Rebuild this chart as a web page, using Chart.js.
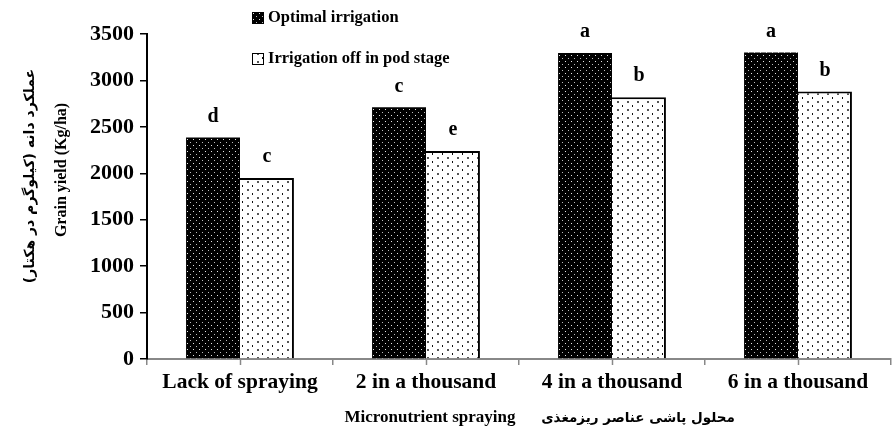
<!DOCTYPE html>
<html lang="en">
<head>
  <meta charset="UTF-8" />
  <title>Grain yield by micronutrient spraying</title>
  <script src="https://cdn.jsdelivr.net/npm/chart.js"></script>
  <style>
    html, body { margin: 0; padding: 0; background: #fff; }
    #wrap { width: 892px; height: 435px; position: relative; }
  </style>
</head>
<body>
  <div id="wrap"><canvas id="yieldChart"></canvas></div>

  <script>
    // data
    const categories = ['Lack of spraying', '2 in a thousand', '4 in a thousand', '6 in a thousand'];
    const optimalIrrigation = [2385, 2710, 3295, 3300];
    const irrigationOffPod = [1950, 2240, 2820, 2880];
    const optimalLetters = ['d', 'c', 'a', 'a'];
    const offPodLetters = ['c', 'e', 'b', 'b'];
    const yTicks = [0, 500, 1000, 1500, 2000, 2500, 3000, 3500];

    const serif = '"Liberation Serif", "Times New Roman", serif';
    const persianFont = '"DejaVu Sans", sans-serif';

    // small tile patterns for the bar fills
    function makePattern(bg, dots, w, h) {
      const c = document.createElement('canvas');
      c.width = w; c.height = h;
      const g = c.getContext('2d');
      g.fillStyle = bg;
      g.fillRect(0, 0, w, h);
      dots.forEach(([x, y, dw, dh, col]) => {
        g.fillStyle = col;
        g.fillRect(x, y, dw, dh);
      });
      return g.createPattern(c, 'repeat');
    }
    const blackDots = makePattern('#000', [[1, 1, 1, 1, '#e6e6e6'], [4, 4, 1, 1, '#bdbdbd']], 6, 6);
    const whiteDots = makePattern('#fff', [[2, 1, 1, 2, '#111'], [7, 5, 2, 2, '#555']], 10, 8);

    // letters above bars, axis titles, legend, half-category ticks
    const extras = {
      id: 'extras',
      afterDatasetsDraw(chart) {
        const ctx = chart.ctx;
        const area = chart.chartArea;
        ctx.save();
        ctx.fillStyle = '#000';
        ctx.font = 'bold 20px ' + serif;
        ctx.textAlign = 'center';
        ctx.textBaseline = 'middle';
        [optimalLetters, offPodLetters].forEach((letters, di) => {
          chart.getDatasetMeta(di).data.forEach((bar, i) => {
            ctx.fillText(letters[i], bar.x, bar.y - 21);
          });
        });

        // extra x ticks at category centres
        const xs = chart.scales.x;
        ctx.strokeStyle = '#888';
        ctx.lineWidth = 1.5;
        categories.forEach((c, i) => {
          const px = Math.round(xs.getPixelForValue(i)) + 0.5;
          ctx.beginPath();
          ctx.moveTo(px, area.bottom);
          ctx.lineTo(px, area.bottom + 6);
          ctx.stroke();
        });

        // x axis titles
        ctx.font = 'bold 17px ' + serif;
        ctx.fillText('Micronutrient spraying', 430, 418);
        ctx.font = 'bold 13.5px ' + persianFont;
        ctx.direction = 'rtl';
        ctx.fillText('محلول پاشی عناصر ریزمغذی', 638, 418);
        ctx.direction = 'ltr';

        // y axis titles (rotated)
        ctx.save();
        ctx.translate(62, 170);
        ctx.rotate(-Math.PI / 2);
        ctx.font = 'bold 16px ' + serif;
        ctx.fillText('Grain yield (Kg/ha)', 0, 0);
        ctx.restore();
        ctx.save();
        ctx.translate(30, 176);
        ctx.rotate(-Math.PI / 2);
        ctx.font = 'bold 14px ' + persianFont;
        ctx.direction = 'rtl';
        ctx.fillText('عملکرد دانه (کیلوگرم در هکتار)', 0, 0);
        ctx.restore();

        // legend
        const items = [
          { text: 'Optimal irrigation', fill: blackDots, y: 18 },
          { text: 'Irrigation off in pod stage', fill: whiteDots, y: 59 }
        ];
        ctx.textAlign = 'left';
        ctx.font = 'bold 16.5px ' + serif;
        items.forEach(it => {
          ctx.fillStyle = it.fill;
          ctx.fillRect(252, it.y - 6, 12, 12);
          ctx.strokeStyle = '#000';
          ctx.lineWidth = 1;
          ctx.strokeRect(252.5, it.y - 5.5, 11, 11);
          ctx.fillStyle = '#000';
          ctx.fillText(it.text, 268, it.y);
        });
        ctx.restore();
      }
    };

    new Chart(document.getElementById('yieldChart'), {
      type: 'bar',
      data: {
        labels: categories,
        datasets: [
          {
            label: 'Optimal irrigation',
            data: optimalIrrigation,
            backgroundColor: blackDots,
            borderColor: '#000',
            borderWidth: 0,
            barPercentage: 1,
            categoryPercentage: 0.58
          },
          {
            label: 'Irrigation off in pod stage',
            data: irrigationOffPod,
            backgroundColor: whiteDots,
            borderColor: '#000',
            borderWidth: { top: 2, right: 2, left: 0, bottom: 0 },
            borderSkipped: false,
            barPercentage: 1,
            categoryPercentage: 0.58
          }
        ]
      },
      options: {
        responsive: true,
        maintainAspectRatio: false,
        animation: false,
        layout: { padding: { top: 34, right: 1, left: 0, bottom: 0 } },
        plugins: {
          legend: { display: false },
          tooltip: { enabled: false }
        },
        scales: {
          x: {
            offset: true,
            grid: {
              offset: true,
              drawOnChartArea: false,
              color: '#888',
              lineWidth: 1.5,
              tickLength: 6
            },
            border: { color: '#888', width: 2 },
            ticks: {
              color: '#000',
              font: { family: serif, size: 21.5, weight: 'bold' },
              padding: 5,
              maxRotation: 0
            },
            afterFit: s => { s.height = 76; }
          },
          y: {
            min: 0,
            max: 3500,
            afterBuildTicks: s => { s.ticks = yTicks.map(v => ({ value: v })); },
            grid: {
              drawOnChartArea: false,
              color: '#000',
              lineWidth: 1.5,
              tickLength: 7
            },
            border: { color: '#000', width: 2 },
            ticks: {
              color: '#000',
              font: { family: serif, size: 22, weight: 'bold' },
              padding: 6,
              callback: v => String(v)
            },
            afterFit: s => { s.width = 147; }
          }
        }
      },
      plugins: [extras]
    });
  </script>
</body>
</html>
